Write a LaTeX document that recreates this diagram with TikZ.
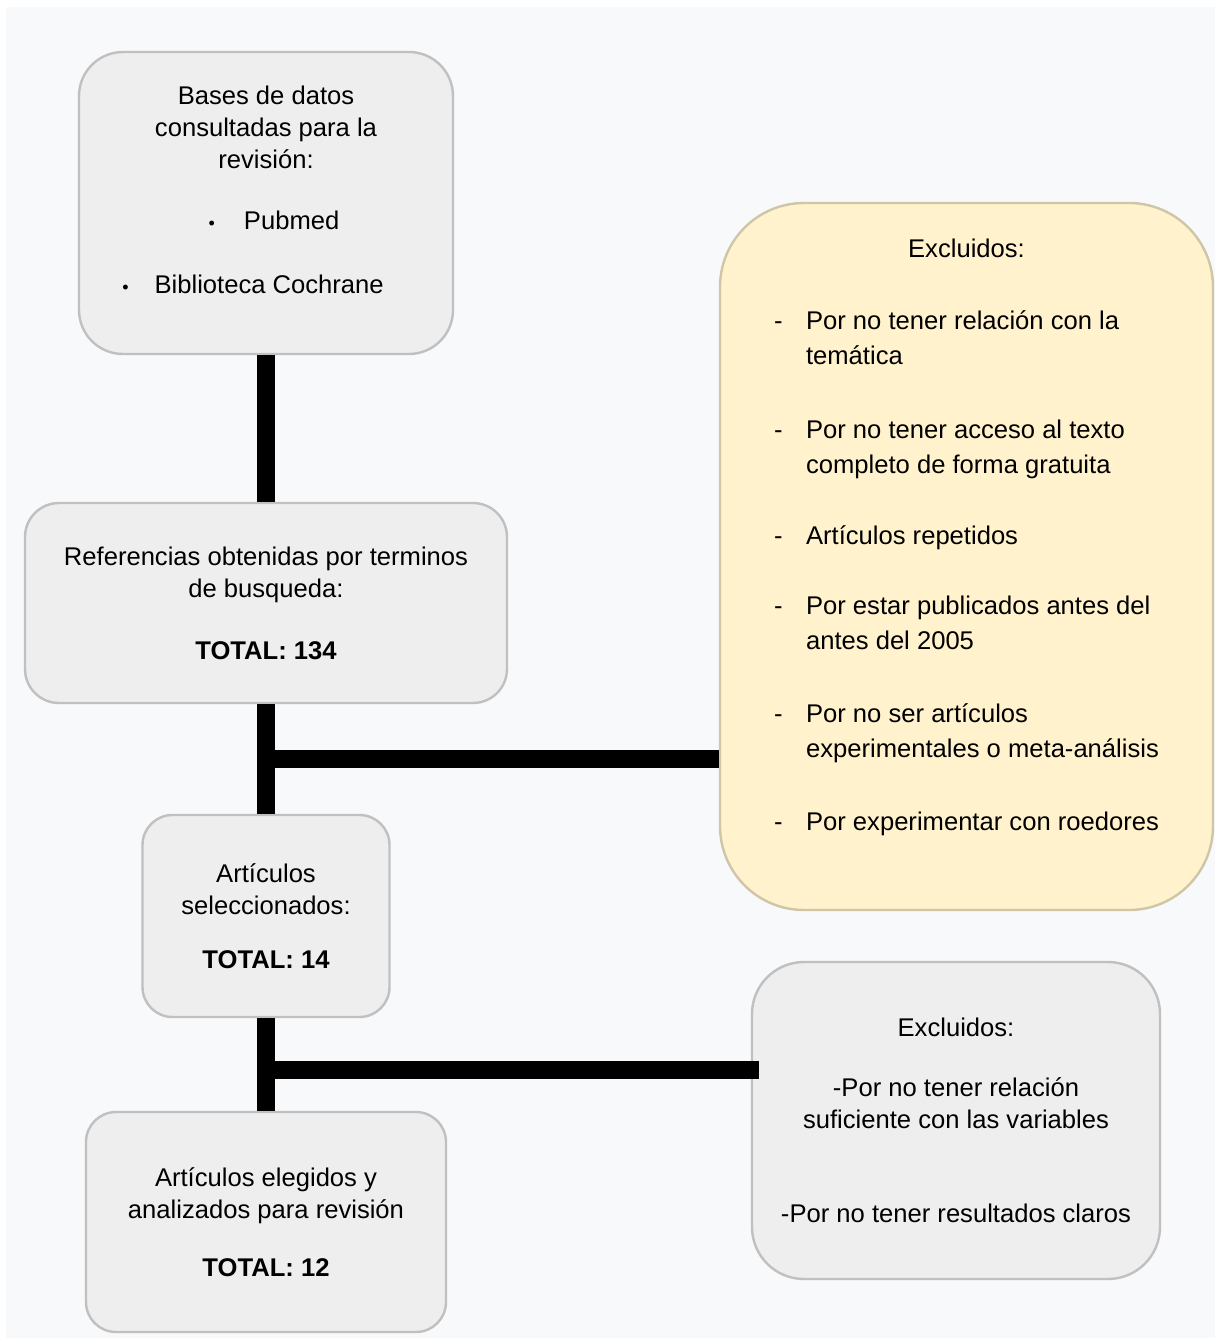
\documentclass[tikz,border=0pt]{standalone}
\usepackage{fontspec}
\setmainfont{Liberation Sans}
\definecolor{bgpage}{HTML}{F8F9FB}
\definecolor{boxfill}{HTML}{EEEEEE}
\definecolor{boxline}{HTML}{C0C0C0}
\definecolor{excfill}{HTML}{FFF2CC}
\definecolor{excline}{HTML}{CFC6A8}
\begin{document}
\begin{tikzpicture}[x=0.5pt,y=-0.5pt,
   box/.style={draw=boxline,fill=boxfill,line width=1.2pt,align=center,inner sep=0pt,
     font=\fontsize{12.8}{16}\selectfont},
   link/.style={draw,line width=9pt}]
\useasboundingbox (0,0) rectangle (1215,1338);
\fill[white] (0,0) rectangle (1215,1338);
\fill[bgpage] (6,7) rectangle (1215,1338);
   \node[box,rounded corners=22pt,minimum width=187pt,minimum height=151pt] (db) at (266,203)
     {Bases de datos\\consultadas para la\\revisión:\\[14.5pt]
      \hspace*{8pt}{\small\textbullet}\hspace{14.5pt}Pubmed\\[16pt]
      \hspace*{-13pt}{\small\textbullet}\hspace{13pt}Biblioteca Cochrane\\[-2.5pt]\mbox{}};
   \node[box,rounded corners=17pt,minimum width=241pt,minimum height=100pt] (refs) at (266,603)
     {Referencias obtenidas por terminos\\de busqueda:\\[15pt]\textbf{TOTAL: 134}};
   \node[box,rounded corners=15pt,minimum width=123.5pt,minimum height=101pt] (sel) at (266,916)
     {Artículos\\seleccionados:\\[11pt]\textbf{TOTAL: 14}};
   \node[box,rounded corners=15pt,minimum width=180pt,minimum height=110pt] (fin) at (266,1222)
     {Artículos elegidos y\\analizados para revisión\\[13pt]\textbf{TOTAL: 12}};
   \node[box,fill=excfill,draw=excline,rounded corners=42pt,minimum width=246.5pt,minimum height=353.5pt,
     font=\fontsize{12.8}{17.5}\selectfont] (ex1) at (966.5,556.5)
     {\begin{tabular}{@{}p{16pt}@{}l@{}}
      \multicolumn{2}{c}{Excluidos:}\\[18.5pt]
      - & Por no tener relación con la\\
        & temática\\[19.5pt]
      - & Por no tener acceso al texto\\
        & completo de forma gratuita\\[18pt]
      - & Artículos repetidos\\[17.5pt]
      - & Por estar publicados antes del\\
        & antes del 2005\\[19pt]
      - & Por no ser artículos\\
        & experimentales o meta-análisis\\[19pt]
      - & Por experimentar con roedores\\[2.5pt]
        &
      \end{tabular}};
   \node[box,rounded corners=26pt,minimum width=204pt,minimum height=158.5pt] (ex2) at (956,1120.5)
     {Excluidos:\\[14pt]-Por no tener relación\\suficiente con las variables\\[31pt]-Por no tener resultados claros};
   \coordinate (k1) at (266,759);
   \coordinate (k2) at (266,1070);
   \path[link] (db) edge (refs) (refs) edge (sel) (sel) edge (fin);
   \path[link] (k1) edge (k1 -| ex1.west);
   \path[link] (k2) edge ([xshift=4pt]k2 -| ex2.west);
\end{tikzpicture}
\end{document}
